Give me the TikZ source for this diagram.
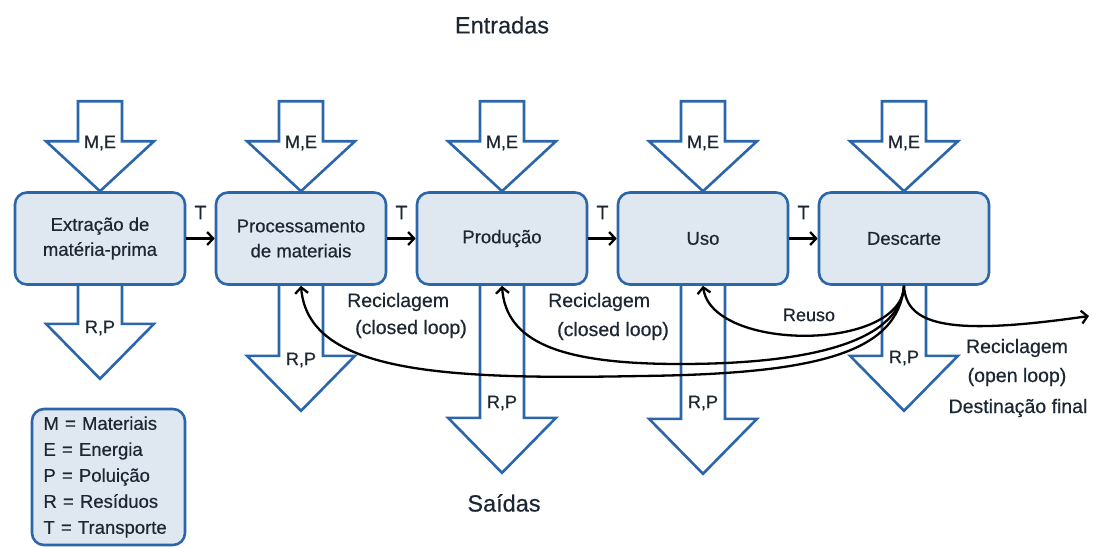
\documentclass[tikz,border=0pt]{standalone}
\usepackage{fontspec}
\setmainfont{Liberation Sans}[FakeBold=0.5]
\usetikzlibrary{arrows.meta,calc}
\definecolor{boxblue}{HTML}{2A66A9}
\definecolor{boxfill}{HTML}{DFE7F1}
\definecolor{txt}{HTML}{1C2733}
\newcommand\inarrow[1]{%
  \draw[blockarrow] (#1.north) -- ++(-54,-50) -- ++(32,0) -- ++(0,-40) -- ++(44,0) -- ++(0,40) -- ++(32,0) -- cycle;}
\newcommand\outarrow[2]{%
  \draw[blockarrow] ($(#1.south)+(-22,0)$) -- ++(0,#2) -- ++(-32,0) -- ++(54,55) -- ++(54,-55) -- ++(-32,0) -- ($(#1.south)+(22,0)$);}
\begin{document}
\begin{tikzpicture}[x=1pt,y=-1pt,
  stagebox/.style={draw=boxblue, fill=boxfill, line width=2.6pt, rounded corners=12pt,
    minimum width=170pt, minimum height=92pt, align=center, text=txt,
    font=\fontsize{18.5}{25}\selectfont},
  blockarrow/.style={draw=boxblue, fill=white, line width=2.6pt, line join=miter},
  flowarrow/.style={draw=black, line width=2.3pt, -{Straight Barb[length=6pt,width=13pt]}},
  looparrow/.style={draw=black, line width=2.3pt, -{Straight Barb[length=6pt,width=13pt]}},
  arrlabel/.style={text=txt, font=\fontsize{18}{20}\selectfont, inner sep=0pt},
  sidelabel/.style={text=txt, font=\fontsize{19.5}{22}\selectfont, inner sep=0pt},
  titlelabel/.style={text=txt, font=\fontsize{23.5}{26}\selectfont},
  tlabel/.style={text=txt, font=\fontsize{19.5}{22}\selectfont, midway, yshift=26pt}
]
\useasboundingbox (0,0) rectangle (1093,547);

% stage boxes (positions)
\path (100,238.5) coordinate (p1) (301,238.5) coordinate (p2) (502,238.5) coordinate (p3)
      (703,238.5) coordinate (p4) (904,238.5) coordinate (p5);
\node[stagebox, draw=none, fill=none] (b1) at (p1) {\phantom{X}};
\node[stagebox, draw=none, fill=none] (b2) at (p2) {\phantom{X}};
\node[stagebox, draw=none, fill=none] (b3) at (p3) {\phantom{X}};
\node[stagebox, draw=none, fill=none] (b4) at (p4) {\phantom{X}};
\node[stagebox, draw=none, fill=none] (b5) at (p5) {\phantom{X}};

% input block arrows
\inarrow{b1}\inarrow{b2}\inarrow{b3}\inarrow{b4}\inarrow{b5}
% output block arrows
\outarrow{b1}{38}
\outarrow{b2}{70}
\outarrow{b3}{132}
\outarrow{b4}{133}
\outarrow{b5}{70}

% visible boxes
\node[stagebox] (s1) at (p1) {Extração de\\matéria-prima};
\node[stagebox] (s2) at (p2) {Processamento\\de materiais};
\node[stagebox] (s3) at (p3) {Produção};
\node[stagebox] (s4) at (p4) {Uso};
\node[stagebox] (s5) at (p5) {Descarte};

% block arrow labels
\node[arrlabel] (me1) at (100,143) {M,E};
\node[arrlabel] (me2) at (301,143) {M,E};
\node[arrlabel] (me3) at (502,143) {M,E};
\node[arrlabel] (me4) at (703,143) {M,E};
\node[arrlabel] (me5) at (904,143) {M,E};
\node[arrlabel] (rp1) at (100,328) {R,P};
\node[arrlabel] (rp2) at (301,360) {R,P};
\node[arrlabel] (rp3) at (502,403) {R,P};
\node[arrlabel] (rp4) at (703,403) {R,P};
\node[arrlabel] (rp5) at (904,358) {R,P};

% transport arrows
\draw[flowarrow] (s1.east) -- node[tlabel] (t1) {T} (s2.west);
\draw[flowarrow] (s2.east) -- node[tlabel] (t2) {T} (s3.west);
\draw[flowarrow] (s3.east) -- node[tlabel] (t3) {T} (s4.west);
\draw[flowarrow] (s4.east) -- node[tlabel] (t4) {T} (s5.west);

% loops
\draw[looparrow] (s5.south) .. controls (902,352) and (712,352) .. (s4.south);
\draw[looparrow] (s5.south) .. controls (900,345) and (800,364) .. (680,364)
   .. controls (560,364) and (506,342) .. (s3.south);
\draw[looparrow] (s5.south) .. controls (898,352) and (820,374) .. (640,376)
   .. controls (440,380) and (308,372) .. (s2.south);
\coordinate (openend) at (1089,316);
\draw[looparrow] (s5.south) .. controls (906,326) and (950,336) .. (openend);

% loop labels
\node[sidelabel, anchor=west] (rc1a) at (347,302) {Reciclagem};
\node[sidelabel, anchor=west] (rc1b) at (355,329) {(closed loop)};
\node[sidelabel, anchor=west] (rc2a) at (548,302) {Reciclagem};
\node[sidelabel, anchor=west] (rc2b) at (557,331) {(closed loop)};
\node[arrlabel] (reuso) at (809,315) {Reuso};
\node[sidelabel] (rc3a) at (1017,348) {Reciclagem};
\node[sidelabel] (rc3b) at (1017,377) {(open loop)};
\node[sidelabel] (dest) at (1018,408) {Destinação final};

% titles
\node[titlelabel] (entradas) at (502,25) {Entradas};
\node[titlelabel] (saidas) at (504,503) {Saídas};

% legend
\node[draw=boxblue, fill=boxfill, line width=2.6pt, rounded corners=12pt,
  minimum width=153pt, minimum height=136pt, text width=130pt, inner xsep=11pt,
  align=left, text=txt, font=\fontsize{18.5}{26}\selectfont] (legend) at (108.5,477)
  {M = Materiais\\E = Energia\\P = Poluição\\R = Resíduos\\T = Transporte};
\end{tikzpicture}
\end{document}
